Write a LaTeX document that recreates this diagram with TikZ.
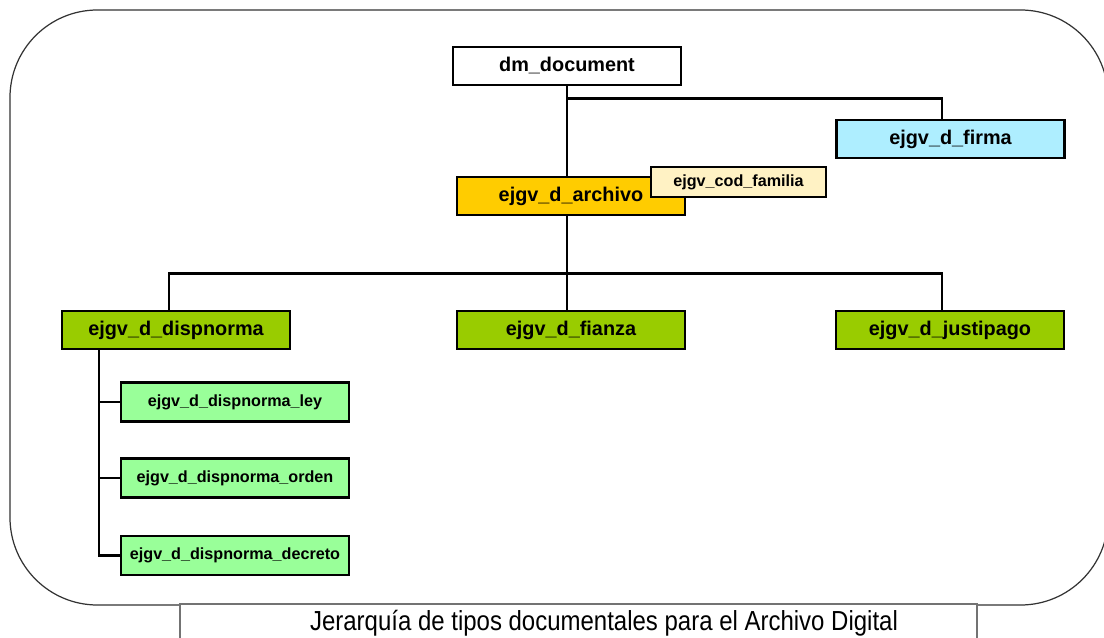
\documentclass[tikz,border=0pt]{standalone}
\usepackage{fontspec}
\setmainfont{Liberation Sans}
\setsansfont{Liberation Sans}
\definecolor{raiz}{HTML}{FFFFFF}
\definecolor{firmac}{HTML}{AEEEFF}
\definecolor{archivoc}{HTML}{FFCC00}
\definecolor{familiac}{HTML}{FFF2C4}
\definecolor{ramac}{HTML}{99CC00}
\definecolor{hojac}{HTML}{99FF99}
\begin{document}
\begin{tikzpicture}[
        x=0.02cm,
        y=-0.02cm,
        thick,
        font=\sffamily\bfseries
    ]
    \tikzset{
        tipo/.style = {rectangle, draw=black, line width=1.6pt, inner sep=0pt, align=center,
            minimum width=4.56cm, minimum height=0.76cm, font=\sffamily\bfseries\fontsize{11.3}{13}\selectfont},
        tipor/.style = {tipo, fill=raiz},
        tipof/.style = {tipo, fill=firmac},
        tipoa/.style = {tipo, fill=archivoc},
        tipob/.style = {tipo, fill=ramac},
        tipoh/.style = {tipo, fill=hojac, minimum height=0.78cm, font=\sffamily\bfseries\fontsize{9.2}{11}\selectfont},
        atrib/.style = {tipo, fill=familiac, minimum width=3.5cm, minimum height=0.6cm, font=\sffamily\bfseries\fontsize{9.2}{11}\selectfont},
        enlace/.style = {-, line width=1.6pt, line cap=rect},
        marco/.style = {draw=black!80, line width=0.7pt, rounded corners=1.75cm},
    }
    \clip (0,0) rectangle (1104,638);
    \draw[marco] (10,10) rectangle (1108,605);
    \draw[draw=black!55, line width=0.8pt, fill=white] (180,645) rectangle (977,604);
    \node[font=\sffamily\fontsize{14}{16}\selectfont] at (604,623) (titulo) {\scalebox{0.975}[1.12]{Jerarquía de tipos documentales para el Archivo Digital}};
    %
    \node[tipor] at (567,66) (doc) {dm\_document};
    \node[tipof] at (950.5,139) (firma) {ejgv\_d\_firma};
    \node[tipoa] at (571,196) (archivo) {ejgv\_d\_archivo};
    \node[atrib] at (738.5,182) (familia) {ejgv\_cod\_familia};
    \node[tipob] at (176,330) (dispnorma) {ejgv\_d\_dispnorma};
    \node[tipob] at (571,330) (fianza) {ejgv\_d\_fianza};
    \node[tipob] at (950,330) (justipago) {ejgv\_d\_justipago};
    \node[tipoh] at (235,402) (ley) {ejgv\_d\_dispnorma\_ley};
    \node[tipoh] at (235,478) (orden) {ejgv\_d\_dispnorma\_orden};
    \node[tipoh] at (235,555.5) (decreto) {ejgv\_d\_dispnorma\_decreto};
    %
    \path (doc.south) ++(0,12) coordinate (ramaA) ++(0,175) coordinate (ramaB);
    \path (dispnorma.south) ++(-77,0) coordinate (ramaC);
    %
    \draw[enlace] (doc.south) -- (doc.south |- archivo.north);
    \draw[enlace] (ramaA) -| ([xshift=-0.17cm]firma.north);
    \draw[enlace] (doc.south |- archivo.south) -- (doc.south |- fianza.north);
    \draw[enlace] ([xshift=-0.14cm]dispnorma.north) |- (ramaB) -| ([xshift=-0.16cm]justipago.north);
    %
    \draw[enlace] (ramaC) |- (ley.west);
    \draw[enlace] (ramaC) |- (orden.west);
    \draw[enlace] (ramaC) |- (decreto.west);
\end{tikzpicture}
\end{document}
